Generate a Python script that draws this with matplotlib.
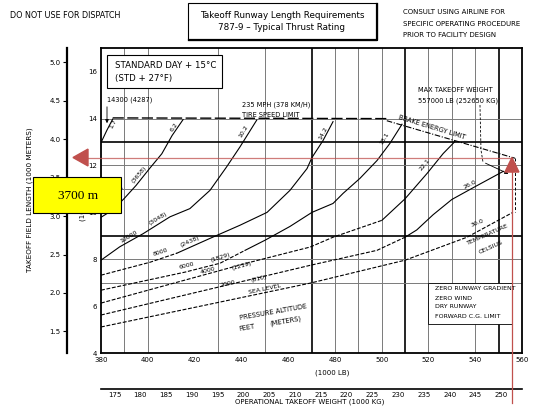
import numpy as np
import matplotlib
matplotlib.use('Agg')
import matplotlib.pyplot as plt
from matplotlib.patches import Rectangle, Polygon

# ---------------------------------------------------------------
# Data (weight in 1000 lb, field length in 1000 ft)
# ---------------------------------------------------------------
weight_ticks_lb = [380, 400, 420, 440, 460, 480, 500, 520, 540, 560]
weight_ticks_kg = [175, 180, 185, 190, 195, 200, 205, 210, 215, 220, 225, 230, 235, 240, 245, 250]
length_ticks_ft = [4, 6, 8, 10, 12, 14, 16]
length_ticks_m = [1.5, 2.0, 2.5, 3.0, 3.5, 4.0, 4.5, 5.0]

grid_thin_x = [390, 400, 430, 450, 480, 490, 500, 520, 540]
grid_short_x = [530]
grid_thick_x = [470, 510, 550]
grid_thin_y = [7, 8, 11, 12, 14]
grid_thick_y = [9, 13]

# pressure altitude lines (ft)
alt_14300_w = [380.4, 382.5, 385.0]
alt_14300_l = [13.06, 13.5, 13.98]

alt_12000_w = [380, 385, 390, 395, 401, 406, 410.4, 415.1]
alt_12000_l = [9.79, 10.1, 10.6, 11.15, 11.9, 12.5, 13.28, 13.96]

alt_10000_w = [380, 388, 398, 409.5, 418, 426.6, 433.7, 439.4, 446.6]
alt_10000_l = [7.96, 8.53, 9.09, 9.81, 10.16, 10.94, 11.94, 12.79, 13.94]

alt_8000_w = [380, 400.9, 412.5, 426.6, 439.4, 451, 460.8, 468.1, 470.2, 474.9, 479.2]
alt_8000_l = [7.32, 7.87, 8.26, 8.89, 9.45, 10.0, 10.94, 11.87, 12.34, 13.06, 13.87]

alt_6000_w = [380, 415.9, 430.9, 441.6, 450.1, 460.8, 470.2, 479.2, 483.5, 490.7, 498, 503.5, 508.7]
alt_6000_l = [6.68, 7.45, 7.83, 8.38, 8.81, 9.4, 10.0, 10.38, 10.81, 11.45, 12.21, 12.94, 13.76]

alt_4000_w = [380, 443.7, 469.4, 479.2, 500.1, 510, 519.4, 526.3, 531.3]
alt_4000_l = [6.13, 7.87, 8.52, 8.94, 9.66, 10.58, 11.66, 12.51, 13.02]

alt_2000_w = [380, 420, 469.4, 498, 510, 515, 522, 530, 540, 552]
alt_2000_l = [5.62, 6.57, 7.74, 8.38, 8.94, 9.25, 9.9, 10.55, 11.1, 11.75]

alt_sl_w = [380, 425, 469.4, 510, 536.5, 556.1]
alt_sl_l = [5.11, 6.05, 6.98, 7.96, 8.94, 10.0]

# limit lines
tire_w = [385.0, 502.2]
tire_l = [14.03, 14.0]
brake_w = [502.2, 557.0]
brake_l = [13.91, 12.31]
mtow_w = [557.0, 557.0]
mtow_l = [12.31, 10.0]

# red reading marks
red_weight = 555.7
red_length = 12.34

# ---------------------------------------------------------------
W, H = 534, 411
plt.rcParams['font.family'] = 'DejaVu Sans'
fig = plt.figure(figsize=(W / 100, H / 100), dpi=100)
ax = fig.add_axes([101 / W, (H - 353) / H, 421 / W, 304.7 / H])
ax.set_xlim(380, 560)
ax.set_ylim(4, 17)


def T(px, py, s, size=4.8, ha='center', va='center', rot=0, **kw):
    fig.text(px / W, 1 - py / H, s, fontsize=size, ha=ha, va=va, rotation=rot,
             rotation_mode='anchor', zorder=6, **kw)


def xd(px):
    return 380 + (px - 101) / 2.339


def yd(py):
    return 4 + (353 - py) / 23.44


# grid
for x in grid_thin_x:
    ax.axvline(x, color='#7a7a7a', lw=0.7, zorder=1)
for x in grid_short_x:
    ax.plot([x, x], [7, 17], color='#7a7a7a', lw=0.7, zorder=1)
for x in grid_thick_x:
    ax.axvline(x, color='black', lw=1.2, zorder=1)
for y in grid_thin_y:
    ax.axhline(y, color='#7a7a7a', lw=0.7, zorder=1)
for y in grid_thick_y:
    ax.axhline(y, color='black', lw=1.2, zorder=1)

# curves
def draw_curve(ws, ls, dash_until=None):
    ws, ls = np.array(ws), np.array(ls)
    if dash_until is None:
        ax.plot(ws, ls, color='black', lw=0.8, zorder=2)
        return
    k = min(np.searchsorted(ws, dash_until), len(ws) - 1)
    ax.plot(ws[:k + 1], ls[:k + 1], color='black', lw=0.8, dashes=(3.5, 1.5), zorder=2)
    ax.plot(ws[k:], ls[k:], color='black', lw=0.8, zorder=2)


draw_curve(alt_14300_w, alt_14300_l)
draw_curve(alt_12000_w, alt_12000_l)
draw_curve(alt_10000_w, alt_10000_l)
draw_curve(alt_8000_w, alt_8000_l, 412)
draw_curve(alt_6000_w, alt_6000_l, 441)
draw_curve(alt_4000_w, alt_4000_l, 480)
draw_curve(alt_2000_w, alt_2000_l, 505)
draw_curve(alt_sl_w, alt_sl_l, 560)

ax.plot(tire_w, tire_l, color='black', lw=1.0, dashes=(8, 2.5), zorder=2)
ax.plot(brake_w, brake_l, color='black', lw=0.8, dashes=(5, 1.5, 1, 1.5), zorder=2)
ax.plot(mtow_w, mtow_l, color='black', lw=0.7, dashes=(3, 2), zorder=2)
# leader from the max weight note
ax.plot([xd(480), xd(481), xd(483)], [yd(105), yd(150), yd(162)], color='black', lw=0.6,
        dashes=(3, 2), zorder=2)
ax.annotate('', xy=(xd(511), yd(175)), xytext=(xd(483), yd(162)),
            arrowprops=dict(arrowstyle='-|>', lw=0.6, color='black', mutation_scale=5), zorder=2)
ax.annotate('', xy=(xd(107), yd(126)), xytext=(xd(107), yd(104)),
            arrowprops=dict(arrowstyle='-|>', lw=0.6, color='black', mutation_scale=5), zorder=2)

# white boxes inside the chart
ax.add_patch(Rectangle((xd(107), yd(88)), xd(222) - xd(107), yd(55) - yd(88),
                       facecolor='white', edgecolor='black', lw=0.8, zorder=3))
ax.add_patch(Rectangle((xd(428), yd(324)), xd(512) - xd(428), 7 - yd(324),
                       facecolor='white', edgecolor='black', lw=0.6, zorder=3))

# axes styling
for sp in ax.spines.values():
    sp.set_linewidth(1.3)
ax.set_xticks(weight_ticks_lb)
ax.set_yticks(length_ticks_ft)
ax.tick_params(length=0, labelsize=5, pad=3)

sec_y = ax.secondary_yaxis(-34 / 421, functions=(lambda v: v * 0.3048, lambda v: v / 0.3048))
sec_y.set_yticks(length_ticks_m)
sec_y.set_yticklabels([f'{v:.1f}' for v in length_ticks_m])
sec_y.spines['left'].set_linewidth(1.6)
sec_y.tick_params(length=3, width=0.8, labelsize=5, pad=1.5)

sec_x = ax.secondary_xaxis(-36 / 304.7, functions=(lambda v: v * 0.45359237, lambda v: v / 0.45359237))
sec_x.set_xticks(weight_ticks_kg)
sec_x.spines['bottom'].set_linewidth(1.2)
sec_x.tick_params(length=0, labelsize=5, pad=2)

# red reading marks
red = '#C0504D'
ax.plot([xd(88), red_weight], [red_length, red_length], color=red, lw=0.9, alpha=0.75,
        clip_on=False, zorder=7)
ax.add_patch(Polygon([[xd(73), red_length], [xd(88), red_length + 0.36],
                      [xd(88), red_length - 0.36]],
                     closed=True, color=red, clip_on=False, zorder=7))
ax.add_patch(Polygon([[red_weight, red_length], [red_weight - 3.0, red_length - 0.62],
                      [red_weight + 3.0, red_length - 0.62]],
                     closed=True, color=red, clip_on=False, zorder=7))
ax.plot([red_weight, red_weight], [red_length - 0.62, yd(403)], color=red, lw=0.9,
        clip_on=False, zorder=7)

# ---------------------------------------------------------------
# text
T(10, 15, 'DO NOT USE FOR DISPATCH', size=5.8, ha='left')
fig.add_artist(Rectangle((188 / W, 1 - 40 / H), 189 / W, 37 / H, transform=fig.transFigure,
                         facecolor='white', edgecolor='black', lw=0.8))
fig.add_artist(plt.Line2D([377 / W, 377 / W, 189 / W], [1 - 4 / H, 1 - 40 / H, 1 - 40 / H],
                          transform=fig.transFigure, color='black', lw=1.6))
T(282, 15, 'Takeoff Runway Length Requirements', size=6.3)
T(282, 28, '787-9 \u2013 Typical Thrust Rating', size=6.3)
T(403, 12, 'CONSULT USING AIRLINE FOR', size=5, ha='left')
T(403, 24, 'SPECIFIC OPERATING PROCEDURE', size=5, ha='left')
T(403, 35, 'PRIOR TO FACILITY DESIGN', size=5, ha='left')

T(30, 200, 'TAKEOFF FIELD LENGTH (1000 METERS)', size=5.2, rot=90)
T(83, 200, '(1000 FEET)', size=5, rot=90)

T(115, 65, 'STANDARD DAY + 15\u00b0C', size=6.2, ha='left')
T(115, 79, '(STD + 27\u00b0F)', size=6.2, ha='left')
T(107, 100, '14300 (4287)', size=4.8, ha='left')
T(242, 105, '235 MPH (378 KM/H)', size=4.8, ha='left')
T(242, 115, 'TIRE SPEED LIMIT', size=4.8, ha='left')
T(418, 90, 'MAX TAKEOFF WEIGHT', size=4.8, ha='left')
T(418, 101, '557000 LB (252650 KG)', size=4.8, ha='left')
T(432, 127, 'BRAKE ENERGY LIMIT', size=4.8, rot=-17)

T(113, 124, '1.7', size=4.5, rot=63)
T(174, 127, '6.2', size=4.5, rot=55)
T(139, 175, '(3658)', size=4.5, rot=50)
T(116, 193, '12000', size=4.5, rot=45)
T(129, 237, '10000', size=4.5, rot=31)
T(158, 219, '(3048)', size=4.5, rot=31)
T(244, 131, '10.2', size=4.5, rot=59)
T(161, 252, '8000', size=4.5, rot=18)
T(190, 242, '(2438)', size=4.5, rot=24)
T(323, 133, '14.2', size=4.5, rot=62)
T(187, 266, '6000', size=4.5, rot=14)
T(220, 257, '(1829)', size=4.5, rot=18)
T(385, 138, '18.1', size=4.5, rot=59)
T(208, 271, '4000', size=4.5, rot=15)
T(242, 266, '(1219)', size=4.5, rot=15)
T(425, 165, '22.1', size=4.5, rot=51)
T(228, 284, '2000', size=4.5, rot=13)
T(259, 279, '(610)', size=4.5, rot=13)
T(470, 185, '26.0', size=4.5, rot=27)
T(265, 289, 'SEA LEVEL', size=4.5, rot=12)
T(477, 223, '30.0', size=4.5, rot=22)
T(488, 235, 'TEMPERATURE', size=4.5, rot=24)
T(491, 247, 'CELSIUS', size=4.5, rot=24)
T(273, 312, 'PRESSURE ALTITUDE', size=4.8, rot=10)
T(247, 328, 'FEET', size=4.8, rot=10)
T(286, 321, '(METERS)', size=4.8, rot=10)

T(435, 288, 'ZERO RUNWAY GRADIENT', size=4.5, ha='left')
T(435, 298, 'ZERO WIND', size=4.5, ha='left')
T(435, 307, 'DRY RUNWAY', size=4.5, ha='left')
T(435, 317, 'FORWARD C.G. LIMIT', size=4.5, ha='left')

T(332, 373, '(1000 LB)', size=5)
T(310, 402, 'OPERATIONAL TAKEOFF WEIGHT (1000 KG)', size=5)

# yellow call-out
fig.add_artist(Rectangle((33 / W, 1 - 213 / H), 88 / W, 36 / H, transform=fig.transFigure,
                         facecolor='#FFFF00', edgecolor='black', lw=0.8, zorder=10))
fig.text(78 / W, 1 - 196 / H, '3700 m', fontsize=9.5, family='Liberation Serif',
         ha='center', va='center', zorder=11)

fig.savefig('out.png', dpi=100)
